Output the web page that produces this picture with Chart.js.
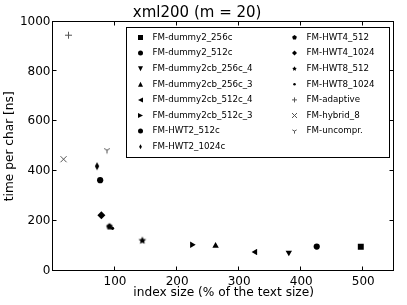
<!DOCTYPE html>
<html>
<head>
<meta charset="utf-8">
<script src="https://cdn.jsdelivr.net/npm/chart.js@4.4.1/dist/chart.umd.min.js"></script>
<style>
  html, body { margin: 0; padding: 0; background: #fff; }
  #wrap { width: 407px; height: 305px; }
</style>
</head>
<body>
<div id="wrap"><canvas id="chart" width="407" height="305"></canvas></div>
<script>
/* data */
const seriesNames = [
    "FM-dummy2_256c", "FM-dummy2_512c", "FM-dummy2cb_256c_4", "FM-dummy2cb_256c_3",
    "FM-dummy2cb_512c_4", "FM-dummy2cb_512c_3", "FM-HWT2_512c", "FM-HWT2_1024c",
    "FM-HWT4_512", "FM-HWT4_1024", "FM-HWT8_512", "FM-HWT8_1024",
    "FM-adaptive", "FM-hybrid_8", "FM-uncompr."
];
const indexSize   = [496, 425, 380, 262, 326, 224, 76, 71, 91, 78, 144, 96, 25, 17, 87];
const timePerChar = [97, 98, 74, 101, 76, 105, 364, 420, 178, 223, 122, 171, 945, 448, 484];
const xTicks = [100, 200, 300, 400, 500];
const yTicks = [0, 200, 400, 600, 800, 1000];

// marker shape per series (matplotlib marker cycle)
const markerShapes = ["square", "circle", "triDown", "triUp", "triLeft", "triRight", "circle",
    "thinDiamond", "pentagon", "diamond", "star", "dot", "plus", "x", "tri"];

const FONT = "DejaVu Sans";
Chart.defaults.font.family = FONT;
Chart.defaults.color = "#000";

// draws a marker centred on (x, y), r = half size
function drawShape(ctx, shape, x, y, r) {
    ctx.save();
    ctx.fillStyle = "#000";
    ctx.strokeStyle = "#000";
    ctx.lineWidth = 1;
    ctx.beginPath();
    const poly = (pts) => {
        pts.forEach((p, i) => i ? ctx.lineTo(x + p[0], y + p[1]) : ctx.moveTo(x + p[0], y + p[1]));
        ctx.closePath();
        ctx.fill();
    };
    if (shape === "square") {
        ctx.fillRect(x - r, y - r, 2 * r, 2 * r);
    } else if (shape === "circle" || shape === "dot") {
        ctx.arc(x, y, shape === "dot" ? r * 0.5 : r, 0, Math.PI * 2);
        ctx.fill();
    } else if (shape === "triUp") {
        poly([[0, -r], [r, r], [-r, r]]);
    } else if (shape === "triDown") {
        poly([[0, r], [r, -r], [-r, -r]]);
    } else if (shape === "triLeft") {
        poly([[-r, 0], [r, -r], [r, r]]);
    } else if (shape === "triRight") {
        poly([[r, 0], [-r, -r], [-r, r]]);
    } else if (shape === "diamond") {
        poly([[0, -r], [r, 0], [0, r], [-r, 0]]);
    } else if (shape === "thinDiamond") {
        poly([[0, -r], [0.55 * r, 0], [0, r], [-0.55 * r, 0]]);
    } else if (shape === "pentagon") {
        const pts = [];
        for (let k = 0; k < 5; k++) {
            const a = -Math.PI / 2 + k * 2 * Math.PI / 5;
            pts.push([r * Math.cos(a), r * Math.sin(a)]);
        }
        poly(pts);
    } else if (shape === "star") {
        const pts = [];
        for (let k = 0; k < 10; k++) {
            const a = -Math.PI / 2 + k * Math.PI / 5;
            const rr = k % 2 ? r * 0.5 : r;
            pts.push([rr * Math.cos(a), rr * Math.sin(a)]);
        }
        poly(pts);
    } else if (shape === "plus" || shape === "x" || shape === "tri") {
        ctx.strokeStyle = "#555";
        if (shape === "plus") {
            ctx.moveTo(x - r, y); ctx.lineTo(x + r, y);
            ctx.moveTo(x, y - r); ctx.lineTo(x, y + r);
        } else if (shape === "x") {
            ctx.moveTo(x - r, y - r); ctx.lineTo(x + r, y + r);
            ctx.moveTo(x - r, y + r); ctx.lineTo(x + r, y - r);
        } else {
            ctx.moveTo(x, y); ctx.lineTo(x, y + r);
            ctx.moveTo(x, y); ctx.lineTo(x - 0.87 * r, y - 0.5 * r);
            ctx.moveTo(x, y); ctx.lineTo(x + 0.87 * r, y - 0.5 * r);
        }
        ctx.stroke();
    }
    ctx.restore();
}

// small canvas used as a Chart.js pointStyle
function markerCanvas(shape, r) {
    const size = 2 * Math.ceil(r) + 2;
    const c = document.createElement("canvas");
    c.width = size;
    c.height = size;
    drawShape(c.getContext("2d"), shape, size / 2, size / 2, r);
    return c;
}

// Chart.js point options per shape
function pointOpts(shape) {
    switch (shape) {
        case "square":   return { pointStyle: "rect", pointRadius: 4.2, pointRotation: 0, pointBorderWidth: 0 };
        case "circle":   return { pointStyle: "circle", pointRadius: 3.1, pointRotation: 0, pointBorderWidth: 0 };
        case "triUp":    return { pointStyle: "triangle", pointRadius: 3.7, pointRotation: 0, pointBorderWidth: 0 };
        case "triDown":  return { pointStyle: "triangle", pointRadius: 3.7, pointRotation: 180, pointBorderWidth: 0 };
        case "triLeft":  return { pointStyle: "triangle", pointRadius: 3.7, pointRotation: 270, pointBorderWidth: 0 };
        case "triRight": return { pointStyle: "triangle", pointRadius: 3.7, pointRotation: 90, pointBorderWidth: 0 };
        case "diamond":  return { pointStyle: "rectRot", pointRadius: 4, pointRotation: 0, pointBorderWidth: 0 };
        case "plus":     return { pointStyle: "cross", pointRadius: 3.5, pointRotation: 0, pointBorderWidth: 1, pointBorderColor: "#555" };
        case "x":        return { pointStyle: "crossRot", pointRadius: 4.3, pointRotation: 0, pointBorderWidth: 1, pointBorderColor: "#555" };
        case "thinDiamond": return { pointStyle: markerCanvas("thinDiamond", 4), pointRadius: 4 };
        case "pentagon": return { pointStyle: markerCanvas("pentagon", 3.4), pointRadius: 4 };
        case "star":     return { pointStyle: markerCanvas("star", 4), pointRadius: 4 };
        case "dot":      return { pointStyle: "circle", pointRadius: 1.6, pointRotation: 0, pointBorderWidth: 0 };
        case "tri":      return { pointStyle: markerCanvas("tri", 3.3), pointRadius: 4 };
    }
}

const datasets = seriesNames.map((name, i) => Object.assign({
    label: name,
    data: [{ x: indexSize[i], y: timePerChar[i] }],
    backgroundColor: "#000",
    borderColor: "#000",
    pointBackgroundColor: "#000",
    pointBorderColor: "#000",
    showLine: false
}, pointOpts(markerShapes[i])));

// frame on all four sides with inward ticks (matplotlib classic look)
const frameTicks = {
    id: "frameTicks",
    afterDatasetsDraw(chart) {
        const { ctx, chartArea: a, scales } = chart;
        const L = Math.round(a.left) - 0.5, R = Math.round(a.right) - 0.5;
        const T = Math.round(a.top) - 0.5, B = Math.round(a.bottom) - 0.5;
        ctx.save();
        ctx.strokeStyle = "#000";
        ctx.lineWidth = 1;
        ctx.strokeRect(L, T, R - L, B - T);
        ctx.beginPath();
        for (const v of xTicks) {
            const px = Math.round(scales.x.getPixelForValue(v)) - 0.5;
            ctx.moveTo(px, B); ctx.lineTo(px, B - 4);
            ctx.moveTo(px, T); ctx.lineTo(px, T + 4);
        }
        for (const v of yTicks) {
            const py = Math.round(scales.y.getPixelForValue(v)) - 0.5;
            ctx.moveTo(L, py); ctx.lineTo(L + 4, py);
            ctx.moveTo(R, py); ctx.lineTo(R - 4, py);
        }
        ctx.stroke();
        ctx.restore();
    }
};

// boxed two-column legend inside the plot
const boxLegend = {
    id: "boxLegend",
    afterDraw(chart) {
        const { ctx, chartArea: a } = chart;
        const left = Math.round(a.left + 73) + 0.5;
        const right = Math.round(a.right - 5) + 0.5;
        const top = Math.round(a.top + 5) + 0.5;
        const height = 130;
        const rowH = 15.6;
        const perCol = 8;
        ctx.save();
        ctx.fillStyle = "#fff";
        ctx.fillRect(left, top, right - left, height);
        ctx.strokeStyle = "#000";
        ctx.lineWidth = 1;
        ctx.strokeRect(left, top, right - left, height);
        ctx.font = "8.7px '" + FONT + "'";
        ctx.textBaseline = "middle";
        seriesNames.forEach((name, i) => {
            const col = Math.floor(i / perCol);
            const row = i % perCol;
            const mx = left + 14 + col * 154;
            const my = top + 10 + row * rowH;
            drawShape(ctx, markerShapes[i], mx, my, 2.5);
            ctx.fillStyle = "#000";
            ctx.fillText(name, mx + 12, my);
        });
        ctx.restore();
    }
};

const tickFont = { family: FONT, size: 12 };

new Chart(document.getElementById("chart"), {
    type: "scatter",
    data: { datasets: datasets },
    options: {
        responsive: false,
        animation: false,
        layout: { padding: { left: 0, right: 12.7, top: 0, bottom: 0 } },
        plugins: {
            legend: { display: false },
            tooltip: { enabled: false },
            title: {
                display: true,
                text: "xml200 (m = 20)",
                color: "#000",
                font: { family: FONT, size: 15, weight: "normal", lineHeight: 1 },
                padding: { top: 6, bottom: 0.5 }
            }
        },
        scales: {
            x: {
                type: "linear",
                min: 0,
                max: 550,
                afterFit: (s) => { s.height = 34; },
                afterBuildTicks: (s) => { s.ticks = xTicks.map(v => ({ value: v })); },
                grid: { display: false, drawTicks: false },
                border: { display: false },
                ticks: {
                    padding: 4,
                    color: "#000",
                    font: tickFont,
                    maxRotation: 0,
                    autoSkip: false,
                    callback: (v) => String(v)
                },
                title: {
                    display: true,
                    text: "index size (% of the text size)",
                    color: "#000",
                    font: { family: FONT, size: 12.2 },
                    padding: { top: 0, bottom: 4.5 }
                }
            },
            y: {
                type: "linear",
                min: 0,
                max: 1000,
                afterFit: (s) => { s.width = 53; },
                afterBuildTicks: (s) => { s.ticks = yTicks.map(v => ({ value: v })); },
                grid: { display: false, drawTicks: false },
                border: { display: false },
                ticks: { padding: 2.5, color: "#000", font: tickFont, autoSkip: false,
                    callback: (v) => String(v) },
                title: {
                    display: true,
                    text: "time per char [ns]",
                    color: "#000",
                    font: { family: FONT, size: 12.2 },
                    padding: { top: 3, bottom: 0 }
                }
            }
        }
    },
    plugins: [frameTicks, boxLegend]
});
</script>
</body>
</html>
